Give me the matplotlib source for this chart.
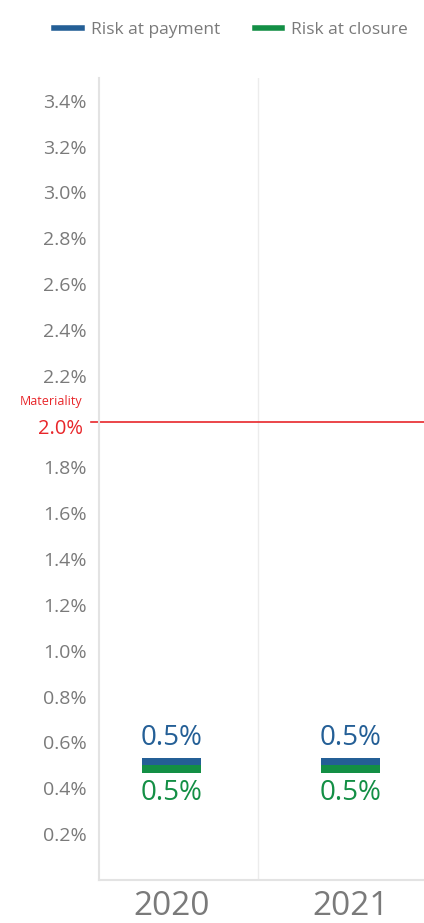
import numpy as np
from matplotlib import pyplot as plt
from matplotlib.lines import Line2D

years = ['2020', '2021']
risk_payment = [0.5, 0.5]
risk_closure = [0.5, 0.5]
materiality = 2.0
yticks = np.round(np.arange(0.2, 3.41, 0.2), 1)

blue = '#245f96'
green = '#138f45'
red = '#e8262a'
grey = '#7a7a7a'

plt.rcParams['font.family'] = ['Open Sans', 'DejaVu Sans']

fig = plt.figure(figsize=(4.24, 9.23), dpi=100)
ax = fig.add_axes([0.2335, 0.0466, 0.7665, 0.869])

x = np.arange(len(years))
band = 0.032
w = 0.33
ax.bar(x, band, bottom=risk_payment, width=w, color=blue, zorder=3)
ax.bar(x, -band, bottom=risk_closure, width=w, color=green, zorder=3)
for i in range(len(years)):
    ax.text(x[i], risk_payment[i] + 0.06, f'{risk_payment[i]:.1f}%', color=blue,
            ha='center', va='bottom', fontsize=20)
    ax.text(x[i], risk_closure[i] - 0.06, f'{risk_closure[i]:.1f}%', color=green,
            ha='center', va='top', fontsize=20)

ax.axhline(materiality, xmin=-0.025, xmax=1, color=red, lw=1.2, clip_on=False, zorder=2)
ytr = ax.get_yaxis_transform()
ax.text(-0.05, materiality + 0.09, 'Materiality', transform=ytr,
        color=red, fontsize=9, ha='right', va='center')
ax.text(-0.05, materiality - 0.03, f'{materiality:.1f}%', transform=ytr,
        color=red, fontsize=14.5, ha='right', va='center')

ax.axvline(0.486, color='#ececec', lw=1, zorder=0)

ax.set_xlim(-0.402, 1.408)
ax.set_ylim(0, 3.5)
ax.set_xticks(x)
ax.set_xticklabels(years, fontsize=24, color=grey)
ax.set_yticks(yticks)
ax.set_yticklabels(['' if abs(v - materiality) < 1e-9 else f'{v:.1f}%' for v in yticks],
                   fontsize=14, color=grey)
ax.tick_params(axis='y', length=0, pad=9)
ax.tick_params(axis='x', length=0, pad=7)
for s in ['top', 'right']:
    ax.spines[s].set_visible(False)
ax.spines['left'].set_color('#e3e3e3')
ax.spines['bottom'].set_color('#e3e3e3')
ax.spines['left'].set_linewidth(1.5)
ax.spines['bottom'].set_linewidth(1.5)

handles = [Line2D([], [], color=blue, lw=4), Line2D([], [], color=green, lw=4)]
fig.legend(handles, ['Risk at payment', 'Risk at closure'], loc='center',
           bbox_to_anchor=(0.545, 0.968), ncol=2, frameon=False, fontsize=12.5,
           handlelength=1.6, columnspacing=2.0, handletextpad=0.5, labelcolor=grey)

fig.savefig('out.png', dpi=100)
